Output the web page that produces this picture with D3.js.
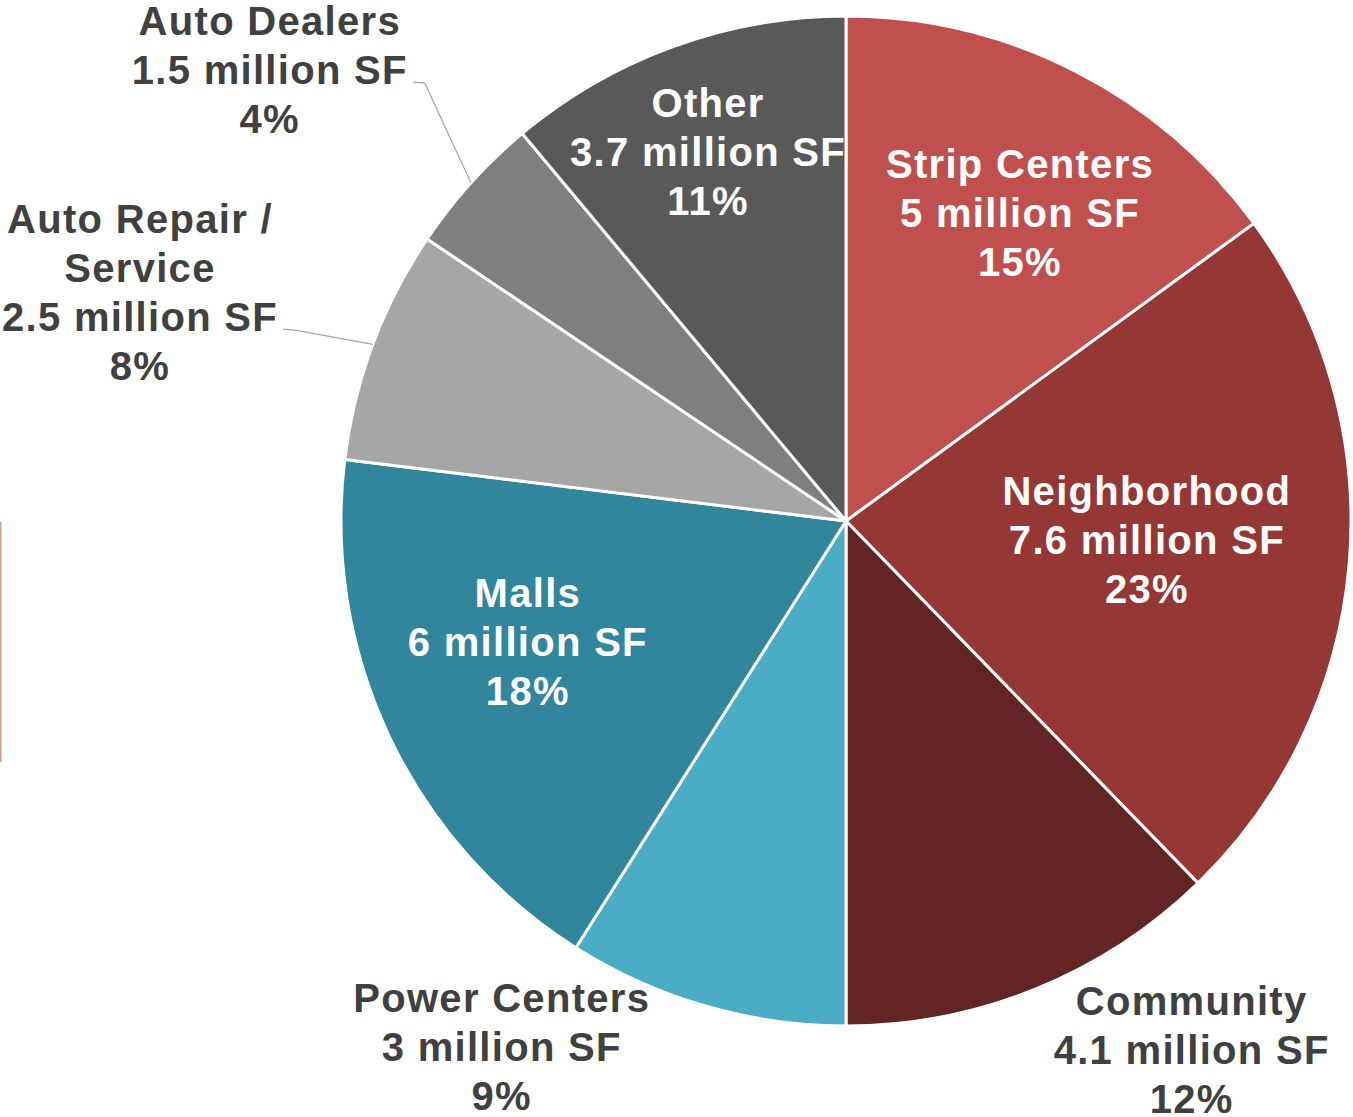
<!DOCTYPE html>
<html>
<head>
<meta charset="utf-8">
<script src="https://cdn.jsdelivr.net/npm/d3@7"></script>
<style>
  html, body { margin: 0; padding: 0; background: #fff; }
  svg { display: block; }
  .lbl { font-family: "Liberation Sans", Arial, sans-serif; font-weight: bold; font-size: 40px; letter-spacing: 1.3px; }
</style>
</head>
<body>
<div id="chart"></div>
<script>
const width = 1353;
const height = 1117;

// data
const categories = [["Strip Centers"], ["Neighborhood"], ["Community"], ["Power Centers"], ["Malls"], ["Auto Repair /", "Service"], ["Auto Dealers"], ["Other"]];
const values = [5, 7.6, 4.1, 3, 6, 2.5, 1.5, 3.7];
const percents = [15, 23, 12, 9, 18, 8, 4, 11];
const colors = ["#C0504D", "#953735", "#632523", "#4BACC6", "#31859C", "#A6A6A6", "#7F7F7F", "#595959"];

// label layout: polar position of the text block (degrees clockwise from top, share of radius)
const labelAngle = [29.4, 93.6, 146.8, 213.2, 249.2, 288, 308.1, 339.5];
const labelDist = [0.702, 0.597, 1.25, 1.245, 0.674, 1.47, 1.45, 0.78];
const inside = [true, true, false, false, true, false, false, true];
const leader = [false, false, false, false, false, true, true, false];

const cx = 846, cy = 521, R = 505;
const lineH = 49;

const svg = d3.select("#chart")
    .append("svg")
    .attr("width", width)
    .attr("height", height);

// thin mark at left edge
svg.append("rect")
    .attr("x", 0).attr("y", 522)
    .attr("width", 1.5).attr("height", 240)
    .attr("fill", "#d49a99");

const g = svg.append("g").attr("transform", `translate(${cx},${cy})`);

const pie = d3.pie().sort(null).value(d => d);
const arcs = pie(values);
const arc = d3.arc().innerRadius(0).outerRadius(R);

g.selectAll("path")
    .data(arcs)
    .enter()
    .append("path")
    .attr("d", arc)
    .attr("fill", (d, i) => colors[i])
    .attr("stroke", "#fff")
    .attr("stroke-width", 3)
    .attr("stroke-linejoin", "round");

const polar = (deg, r) => {
    const a = deg * Math.PI / 180;
    return [r * Math.sin(a), -r * Math.cos(a)];
};

arcs.forEach((d, i) => {
    const lines = categories[i].concat([`${values[i]} million SF`, `${percents[i]}%`]);
    const [bx, by] = polar(labelAngle[i], labelDist[i] * R);
    const n = lines.length;
    const txt = g.append("text")
        .attr("class", "lbl")
        .attr("text-anchor", "middle")
        .attr("fill", inside[i] ? "#fff" : "#404040");
    const spans = lines.map((t, k) => txt.append("tspan")
        .attr("x", bx)
        .attr("y", by + (k - (n - 1) / 2) * lineH)
        .attr("dy", "0.36em")
        .text(t));

    if (leader[i]) {
        // leader from the value line to the edge of the slice
        const k = n - 2;
        const w = spans[k].node().getComputedTextLength();
        const x0 = bx + w / 2 + 5;
        const y0 = by + (k - (n - 1) / 2) * lineH + 13;
        const mid = (d.startAngle + d.endAngle) / 2 * 180 / Math.PI;
        const [ex, ey] = polar(mid, R);
        g.append("polyline")
            .attr("points", [[x0, y0], [x0 + 12, y0 + 1], [ex, ey]].map(p => p.join(",")).join(" "))
            .attr("fill", "none")
            .attr("stroke", "#A6A6A6")
            .attr("stroke-width", 1.2);
    }
});
</script>
</body>
</html>
